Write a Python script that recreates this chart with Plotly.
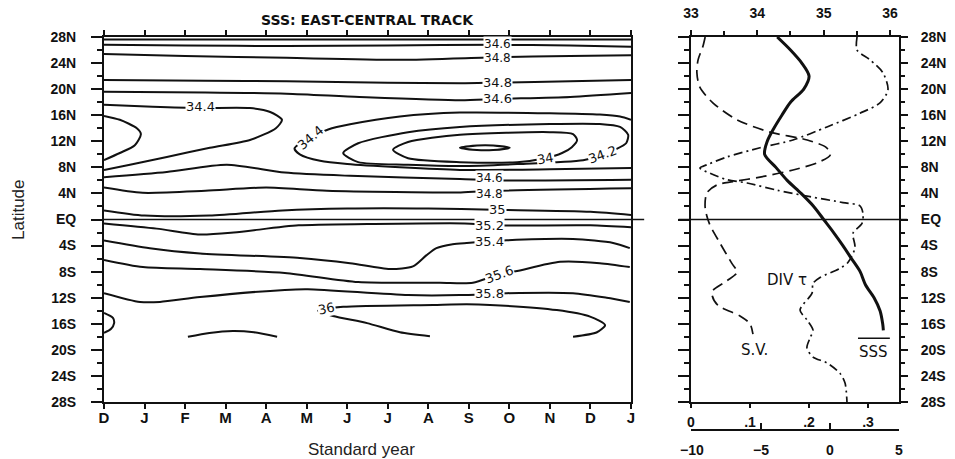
import plotly.graph_objects as go

# ---------------- axis labels ----------------
MONTH_LABELS = ["D", "J", "F", "M", "A", "M", "J", "J", "A", "S", "O", "N", "D", "J"]
MONTH_POS = list(range(14))
LAT_TICKS = [28, 24, 20, 16, 12, 8, 4, 0, -4, -8, -12, -16, -20, -24, -28]
LAT_LABELS = ["28N", "24N", "20N", "16N", "12N", "8N", "4N", "EQ",
              "4S", "8S", "12S", "16S", "20S", "24S", "28S"]
SSS_TICKS = [33, 34, 35, 36]
SV_TICKS = [0, 0.1, 0.2, 0.3]
SV_LABELS = ["0", ".1", ".2", ".3"]
DIV_TICKS = [-10, -5, 0, 5]

# ---------------- contour lines of SSS (month index, latitude) ----------------
C344_TOP_MON = [0, 6, 13]
C344_TOP_LAT = [27.6, 27.6, 27.6]
C346_N_MON = [0, 2, 4.5, 7, 9.7, 11.5, 13]
C346_N_LAT = [26.8, 26.7, 26.6, 26.7, 26.8, 26.7, 26.5]
C348_N_MON = [0, 2, 4.5, 7.3, 9.7, 11.5, 13]
C348_N_LAT = [25.4, 25.1, 24.8, 24.5, 24.9, 25.1, 25.2]
C348_M_MON = [0, 2.5, 4.5, 7, 8.8, 9.7, 11.5, 13]
C348_M_LAT = [21.4, 21.3, 21.2, 21.0, 20.9, 21.0, 21.2, 21.4]
C346_M_MON = [0, 2.5, 4.5, 6.3, 8.8, 9.7, 11.5, 13]
C346_M_LAT = [19.6, 19.5, 19.3, 18.8, 18.3, 18.5, 18.8, 19.4]
C344_L_MON = [0, 1.2, 2.37, 3.6, 4.1, 4.39, 4.24, 3.6, 2.61, 1.55, 0.64, 0]
C344_L_LAT = [17.6, 17.3, 17.1, 17.1, 16.5, 15.3, 14.0, 12.2, 11.0, 9.6, 8.4, 7.6]
C342_L_MON = [0, 0.39, 0.81, 0.91, 0.76, 0.39, 0]
C342_L_LAT = [15.9, 15.3, 14.0, 13.1, 11.4, 10.2, 9.1]
C344_M_MON = [13, 12.73, 12.23, 11.0, 8.78, 7.3, 6.07, 5.53, 5.03, 4.7, 4.83, 5.33, 6.0, 7.3, 8.78, 11.0, 13]
C344_M_LAT = [15.3, 15.8, 16.1, 16.3, 16.4, 15.8, 14.6, 13.8, 12.4, 10.9, 10.0, 9.0, 8.5, 8.0, 7.6, 7.7, 7.9]
C342_M_MON = [5.9, 6.27, 7.5, 8.78, 11.0, 12.23, 12.73, 12.93, 12.88, 12.6, 12.31, 11.82, 10.19, 8.78, 7.5, 6.27, 5.9]
C342_M_LAT = [10.2, 11.7, 13.4, 14.2, 14.65, 14.65, 14.2, 13.0, 11.7, 10.7, 9.9, 9.1, 8.5, 8.2, 8.4, 8.8, 10.2]
C340_MON = [7.13, 7.5, 8.78, 11.0, 11.57, 11.67, 11.54, 11.3, 10.88, 10.19, 8.78, 7.5, 7.13]
C340_LAT = [10.7, 11.9, 13.0, 13.4, 13.1, 12.2, 11.1, 10.2, 9.4, 8.8, 8.8, 9.4, 10.7]
C338_MON = [8.78, 9.2, 9.6, 10.01, 9.6, 9.2, 8.78]
C338_LAT = [11.0, 11.35, 11.35, 11.0, 10.65, 10.65, 11.0]
C346_S_MON = [0, 1.55, 3.03, 4.46, 6.07, 8.78, 9.7, 13]
C346_S_LAT = [6.5, 7.3, 8.4, 7.2, 6.7, 6.2, 6.0, 6.1]
C348_S_MON = [0, 0.95, 2.5, 4.0, 5.5, 8.8, 9.6, 13]
C348_S_LAT = [4.9, 4.1, 4.4, 4.9, 4.4, 4.15, 4.4, 4.8]
C350_MON = [0, 1.0, 2.6, 4.4, 6.0, 8.0, 9.6, 12.0, 13]
C350_LAT = [1.4, 0.6, 0.6, 1.4, 1.7, 1.7, 1.5, 1.2, 0.7]
C352_MON = [0, 1.3, 2.36, 3.2, 4.8, 6.5, 8.9, 9.6, 12, 13]
C352_LAT = [-0.6, -1.4, -2.3, -2.0, -0.9, -0.7, -0.6, -0.9, -0.9, -1.2]
C354_MON = [0, 1.13, 2.37, 4.83, 6.07, 7.05, 7.62, 7.95, 8.2, 8.6, 8.95, 9.94, 11.57, 12.56, 12.97]
C354_LAT = [-3.2, -4.4, -5.2, -5.9, -6.7, -7.6, -7.2, -5.5, -4.4, -3.8, -3.6, -3.2, -3.0, -3.6, -4.4]
C356_MON = [0, 0.96, 2.37, 4.46, 6.27, 8.29, 9.1, 9.7, 10.19, 11.25, 12.23, 12.97]
C356_LAT = [-6.2, -7.3, -7.6, -8.2, -9.6, -9.7, -9.7, -8.5, -7.9, -6.5, -6.7, -7.3]
C358_MON = [0, 0.89, 1.38, 2.37, 4.46, 5.03, 7.5, 8.78, 9.94, 11.57, 12.4, 12.97]
C358_LAT = [-11.3, -12.65, -12.65, -11.9, -10.8, -10.7, -11.6, -11.6, -11.3, -11.3, -12.0, -12.65]
C360_A_MON = [8.04, 7.3, 6.49, 5.65, 5.28, 5.9, 8.12, 8.95, 9.52, 11.17, 11.99, 12.36, 12.16, 11.57]
C360_A_LAT = [-17.9, -17.3, -15.9, -14.8, -14.0, -13.4, -13.1, -13.0, -13.1, -13.9, -14.9, -16.2, -17.3, -18.0]
C360_B_MON = [2.07, 2.6, 3.18, 3.7, 4.27]
C360_B_LAT = [-18.0, -17.4, -17.1, -17.3, -18.0]
C360_C_MON = [0, 0.22, 0.25, 0.17, 0]
C360_C_LAT = [-14.35, -15.1, -15.9, -16.8, -17.4]

CONTOUR_LINES = [
    (C344_TOP_MON, C344_TOP_LAT), (C346_N_MON, C346_N_LAT), (C348_N_MON, C348_N_LAT),
    (C348_M_MON, C348_M_LAT), (C346_M_MON, C346_M_LAT), (C344_L_MON, C344_L_LAT),
    (C342_L_MON, C342_L_LAT), (C344_M_MON, C344_M_LAT), (C342_M_MON, C342_M_LAT),
    (C340_MON, C340_LAT), (C338_MON, C338_LAT), (C346_S_MON, C346_S_LAT),
    (C348_S_MON, C348_S_LAT), (C350_MON, C350_LAT), (C352_MON, C352_LAT),
    (C354_MON, C354_LAT), (C356_MON, C356_LAT), (C358_MON, C358_LAT),
    (C360_A_MON, C360_A_LAT), (C360_B_MON, C360_B_LAT), (C360_C_MON, C360_C_LAT),
]

# contour labels: text, month, latitude, angle, size
LABEL_TEXT = ["34.6", "34.8", "34.8", "34.6", "34.4", "34.4", "34", "34.2",
              "34.6", "34.8", "35", "35.2", "35.4", "35.6", "35.8", "36"]
LABEL_MON = [9.7, 9.7, 9.7, 9.7, 2.37, 5.1, 10.9, 12.3,
             9.5, 9.5, 9.7, 9.5, 9.5, 9.75, 9.5, 5.5]
LABEL_LAT = [27.0, 24.8, 21.0, 18.6, 17.3, 12.6, 9.4, 10.0,
             6.3, 3.95, 1.5, -0.9, -3.3, -8.5, -11.4, -13.6]
LABEL_ANGLE = [0, 0, 0, 0, 0, -40, -10, -20, 0, 0, 0, 0, 0, -20, 0, -12]
LABEL_SIZE = [12, 12, 13, 13, 13, 13, 13, 13, 12, 12, 13, 13, 13, 13, 13, 13]

# ---------------- zonal-mean profiles (right panel) ----------------
SSS_LAT = [28, 26, 24, 22, 20, 18, 16, 14, 12, 10, 8, 6, 4, 2, 0, -2, -4, -6, -8, -10, -12, -14, -16, -17]
SSS_VAL = [34.3, 34.5, 34.67, 34.78, 34.7, 34.5, 34.37, 34.25, 34.15, 34.11, 34.28, 34.45, 34.66,
           34.85, 35.0, 35.15, 35.29, 35.42, 35.55, 35.63, 35.76, 35.85, 35.89, 35.9]
SV_LAT = [28, 26.5, 24.5, 22.5, 20.3, 17.9, 15.3, 13.4, 12.2, 11.0, 9.9, 8.7, 7.6, 6.5, 5.8, 5.3,
          4.1, 1.8, -0.6, -3.6, -6.7, -8.1, -9.4, -10.9, -11.7, -13.2, -14.8, -16.0, -17.6]
SV_VAL = [0.024, 0.020, 0.012, 0.010, 0.015, 0.037, 0.078, 0.134, 0.197, 0.230, 0.236, 0.214, 0.173,
          0.117, 0.071, 0.044, 0.027, 0.024, 0.031, 0.049, 0.069, 0.078, 0.061, 0.037, 0.036, 0.046,
          0.083, 0.100, 0.105]
DIV_LAT = [28, 26.0, 24.5, 22.5, 19.9, 17.9, 16.3, 14.2, 12.2, 11.0, 9.6, 8.4, 7.9, 7.1, 6.1, 5.6,
           4.5, 3.5, 2.6, 2.1, 0.9, -0.6, -2.1, -4.3, -6.6, -7.5, -8.9, -9.8, -11.3, -13.9, -15.4,
           -17.0, -18.2, -19.7, -21.1, -22.0, -23.6, -25.1, -28]
DIV_VAL = [1.96, 1.96, 2.9, 3.84, 4.2, 3.62, 2.17, -0.22, -2.68, -5.07, -7.46, -8.91, -9.42, -8.7,
           -7.46, -6.01, -3.84, -1.45, 0.94, 2.17, 2.39, 2.32, 1.67, 1.81, 1.30, 0.72, -0.72, -1.23,
           -1.30, -2.17, -1.67, -1.23, -1.45, -1.67, -1.23, -0.22, 0.72, 1.09, 1.23]

# ---------------- figure ----------------
W, H = 955, 459
INK = "#111111"
LEFT_DOM = [104 / W, 631 / W]
RIGHT_DOM = [691 / W, 899 / W]
Y_DOM = [1 - 402 / H, 1 - 37 / H]

fig = go.Figure()

for mon, lat in CONTOUR_LINES:
    fig.add_trace(go.Scatter(x=mon, y=lat, mode="lines", xaxis="x", yaxis="y",
                             line=dict(color=INK, width=2, shape="spline", smoothing=0.7),
                             hoverinfo="skip", showlegend=False))

fig.add_trace(go.Scatter(x=SSS_VAL, y=SSS_LAT, mode="lines", xaxis="x3", yaxis="y2",
                         line=dict(color=INK, width=3, shape="spline", smoothing=0.8),
                         hoverinfo="skip", showlegend=False))
fig.add_trace(go.Scatter(x=SV_VAL, y=SV_LAT, mode="lines", xaxis="x2", yaxis="y2",
                         line=dict(color=INK, width=1.7, shape="spline", smoothing=0.8, dash="11px,6px"),
                         hoverinfo="skip", showlegend=False))
fig.add_trace(go.Scatter(x=DIV_VAL, y=DIV_LAT, mode="lines", xaxis="x4", yaxis="y2",
                         line=dict(color=INK, width=1.7, shape="spline", smoothing=0.8,
                                   dash="9px,4px,2px,4px"),
                         hoverinfo="skip", showlegend=False))
fig.add_trace(go.Scatter(x=[None], y=[None], xaxis="x2", yaxis="y3", mode="lines",
                         hoverinfo="skip", showlegend=False))

tickfont = dict(family="Liberation Sans, Arial, sans-serif", size=14, color=INK, weight="bold")
minor_lat = dict(tickmode="linear", tick0=0, dtick=2, ticks="outside", ticklen=5, tickcolor=INK, tickwidth=1.5)

fig.update_layout(
    template="none",
    width=W, height=H, margin=dict(l=0, r=0, t=0, b=0, autoexpand=False),
    paper_bgcolor="white", plot_bgcolor="white", showlegend=False,
    xaxis=dict(domain=LEFT_DOM, range=[0, 13], anchor="y", tickmode="array", automargin=False,
               tickvals=MONTH_POS, ticktext=MONTH_LABELS, ticks="outside", ticklen=5,
               tickwidth=1.5, tickcolor=INK, mirror="ticks", showline=True, linewidth=2,
               linecolor=INK, showgrid=False, zeroline=False,
               tickfont=dict(tickfont, size=15), ticklabelstandoff=-4),
    yaxis=dict(domain=Y_DOM, range=[-28, 28], anchor="x", tickmode="array", automargin=False,
               tickvals=LAT_TICKS, ticktext=LAT_LABELS, ticks="outside", ticklen=11,
               tickwidth=1.5, tickcolor=INK, minor=minor_lat, mirror=True, showline=True,
               linewidth=2, linecolor=INK, showgrid=False, zeroline=False,
               tickfont=tickfont, ticklabelstandoff=12),
    xaxis2=dict(domain=RIGHT_DOM, range=[0, 0.3525], anchor="y2", tickmode="array", automargin=False,
                tickvals=SV_TICKS, ticktext=SV_LABELS, ticks="outside", ticklen=4,
                tickwidth=1.5, tickcolor=INK, showline=True, linewidth=2, linecolor=INK,
                showgrid=False, zeroline=False, tickfont=tickfont, ticklabelstandoff=2),
    yaxis2=dict(domain=Y_DOM, range=[-28, 28], anchor="x2", side="left", tickmode="array",
                automargin=False,
                tickvals=LAT_TICKS, showticklabels=False, ticks="outside", ticklen=11,
                tickwidth=1.5, tickcolor=INK, minor=minor_lat, showline=True, linewidth=2,
                linecolor=INK, showgrid=False, zeroline=False),
    yaxis3=dict(range=[-28, 28], overlaying="y2", anchor="x2", side="right", tickmode="array",
                automargin=False,
                tickvals=LAT_TICKS, ticktext=LAT_LABELS, ticks="outside", ticklen=7,
                tickwidth=1.5, tickcolor=INK,
                minor=dict(minor_lat, ticklen=4), showline=True, linewidth=2, linecolor=INK,
                showgrid=False, zeroline=False, tickfont=tickfont, ticklabelstandoff=10),
    xaxis3=dict(range=[33, 33 + 208 / 66.33], overlaying="x2", anchor="y2", side="top",
                automargin=False,
                tickmode="array", tickvals=SSS_TICKS, ticks="outside", ticklen=5, tickwidth=1.5,
                tickcolor=INK, minor=dict(tickmode="linear", tick0=33, dtick=0.5, ticks="outside",
                                          ticklen=4, tickcolor=INK),
                showline=True, linewidth=2, linecolor=INK, showgrid=False, zeroline=False,
                tickfont=tickfont, ticklabelstandoff=6),
    xaxis4=dict(range=[-10.07, 5], overlaying="x2", anchor="free", position=1 - 430 / H,
                automargin=False,
                side="bottom", tickmode="array", tickvals=DIV_TICKS, ticks="inside", ticklen=6,
                tickwidth=1.5, tickcolor=INK, showline=True, linewidth=1.5, linecolor=INK,
                showgrid=False, zeroline=False, tickfont=tickfont, ticklabelstandoff=7),
)

# equator reference lines
fig.add_shape(type="line", xref="x domain", yref="y", x0=0, x1=1.025, y0=0, y1=0,
              line=dict(color=INK, width=1.5))
fig.add_shape(type="line", xref="x2 domain", yref="y2", x0=-0.06, x1=1.04, y0=0, y1=0,
              line=dict(color=INK, width=1.5))

for t, m, la, ang, sz in zip(LABEL_TEXT, LABEL_MON, LABEL_LAT, LABEL_ANGLE, LABEL_SIZE):
    fig.add_annotation(x=m, y=la, xref="x", yref="y", text=t, showarrow=False,
                       textangle=ang, bgcolor="white", borderpad=0,
                       font=dict(family="DejaVu Sans, sans-serif", size=sz, color=INK))

prof_font = dict(family="DejaVu Sans, sans-serif", size=15, color=INK)
fig.add_annotation(x=0.163, y=-9.3, xref="x2", yref="y2", text="DIV τ", showarrow=False, font=prof_font)
fig.add_annotation(x=0.107, y=-20.0, xref="x2", yref="y2", text="S.V.", showarrow=False, font=prof_font)
fig.add_annotation(x=0.31, y=-20.3, xref="x2", yref="y2", text="SSS", showarrow=False, font=prof_font)
fig.add_shape(type="line", xref="x2", yref="y2", x0=0.283, x1=0.337, y0=-18.2, y1=-18.2,
              line=dict(color=INK, width=1.5))

fig.add_annotation(x=367 / W, y=1 - 20 / H, xref="paper", yref="paper", xanchor="center",
                   yanchor="middle", text="SSS: EAST-CENTRAL TRACK", showarrow=False,
                   font=dict(family="DejaVu Sans, sans-serif", size=14, color=INK, weight="bold"))
fig.add_annotation(x=361 / W, y=1 - 449 / H, xref="paper", yref="paper", xanchor="center",
                   yanchor="middle", text="Standard year", showarrow=False,
                   font=dict(family="Liberation Sans, Arial, sans-serif", size=17, color="#222"))
fig.add_annotation(x=19 / W, y=1 - 210 / H, xref="paper", yref="paper", xanchor="center",
                   yanchor="middle", text="Latitude", textangle=-90, showarrow=False,
                   font=dict(family="Liberation Sans, Arial, sans-serif", size=17, color="#222"))

fig.write_html("out.html", config={"displayModeBar": False},
               post_script="document.body.style.margin='0';document.body.style.overflow='hidden';")
